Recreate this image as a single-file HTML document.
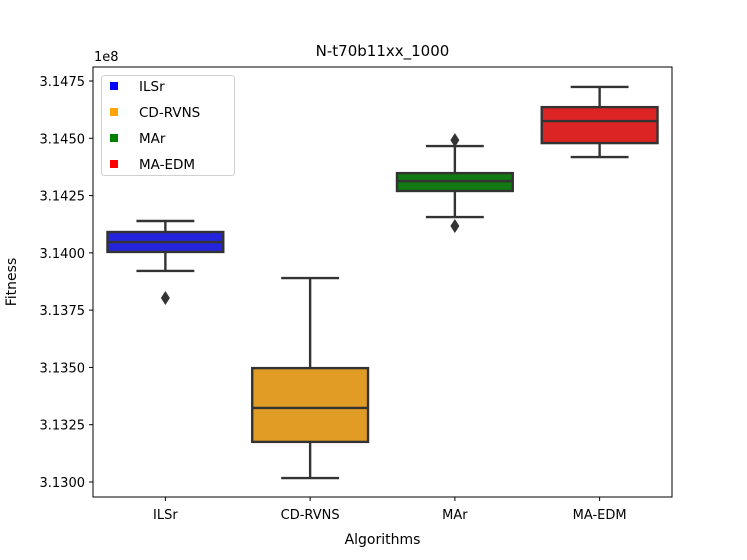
<!DOCTYPE html>
<html><head><meta charset="utf-8"><style>
body{margin:0;background:#fff;}
svg{display:block;font-family:"DejaVu Sans","Liberation Sans",sans-serif;}
</style></head><body>
<svg id="c" width="747" height="560"></svg>
<script>
const categories=["ILSr","CD-RVNS","MAr","MA-EDM"];
const whiskerLow=[3.13921,3.13017,3.14156,3.14418];
const q1=[3.14004,3.13175,3.14270,3.14479];
const median=[3.14047,3.13323,3.14313,3.14575];
const q3=[3.14091,3.13497,3.14348,3.14636];
const whiskerHigh=[3.14139,3.13890,3.14466,3.14724];
const outliers=[[3.13803],[],[3.14492,3.14117],[]];
const boxColors=["#2424dc","#e09c24","#127a12","#dc2424"];
const legendColors=["#0000ff","#ffa500","#008000","#ff0000"];
const yTicks=[3.1300,3.1325,3.1350,3.1375,3.1400,3.1425,3.1450,3.1475];
const yTickLabels=["3.1300","3.1325","3.1350","3.1375","3.1400","3.1425","3.1450","3.1475"];

const L=93,R=672,T=67,B=497;
const yMin=3.129345,yMax=3.148111;
const y=v=>B-(v-yMin)/(yMax-yMin)*(B-T);
const band=(R-L)/categories.length;
const x=i=>L+band*(i+0.5);
const svg=document.getElementById('c');
const NS="http://www.w3.org/2000/svg";
function mk(t,a,txt){const e=document.createElementNS(NS,t);for(const k in a)e.setAttribute(k,a[k]);if(txt!==undefined)e.textContent=txt;svg.appendChild(e);return e;}
const ec="#333333";
const sw=2.4;
categories.forEach((c,i)=>{
  const cx=x(i),bw=band*0.8,cw=bw/2;
  let e=mk('line',{x1:cx,x2:cx,y1:y(whiskerHigh[i]),y2:y(q3[i]),stroke:ec,'stroke-width':sw});
  
  e=mk('line',{x1:cx,x2:cx,y1:y(q1[i]),y2:y(whiskerLow[i]),stroke:ec,'stroke-width':sw});
  
  e=mk('line',{x1:cx-cw/2,x2:cx+cw/2,y1:y(whiskerHigh[i]),y2:y(whiskerHigh[i]),stroke:ec,'stroke-width':sw});
  
  e=mk('line',{x1:cx-cw/2,x2:cx+cw/2,y1:y(whiskerLow[i]),y2:y(whiskerLow[i]),stroke:ec,'stroke-width':sw});
  
  e=mk('rect',{x:cx-bw/2,y:y(q3[i]),width:bw,height:y(q1[i])-y(q3[i]),fill:boxColors[i],stroke:ec,'stroke-width':sw});
  
  e=mk('line',{x1:cx-bw/2,x2:cx+bw/2,y1:y(median[i]),y2:y(median[i]),stroke:ec,'stroke-width':sw});
  
  outliers[i].forEach(o=>{const yy=y(o);
    const p=mk('path',{d:`M${cx} ${yy-7}L${cx+4.5} ${yy}L${cx} ${yy+7}L${cx-4.5} ${yy}Z`,fill:ec});
    });
  e=mk('line',{x1:cx,x2:cx,y1:B,y2:B+4,stroke:'#000','stroke-width':1});
  
  e=mk('text',{x:cx,y:B+22,'text-anchor':'middle','font-size':13},c);
  
});
yTicks.forEach((v,i)=>{
  let e=mk('line',{x1:L-4,x2:L,y1:y(v),y2:y(v),stroke:'#000','stroke-width':1});
  
  e=mk('text',{x:L-8,y:y(v)+5,'text-anchor':'end','font-size':13},yTickLabels[i]);
  
});
let f=mk('rect',{x:L,y:T,width:R-L,height:B-T,fill:'none',stroke:'#000','stroke-width':1});

f=mk('text',{x:94,y:61,'font-size':13},'1e8');

f=mk('text',{x:(L+R)/2,y:56,'text-anchor':'middle','font-size':15},'N-t70b11xx_1000');

f=mk('text',{x:(L+R)/2,y:544,'text-anchor':'middle','font-size':14},'Algorithms');

f=mk('text',{x:16,y:282,'text-anchor':'middle','font-size':14,transform:'rotate(-90 16 282)'},'Fitness');

f=mk('rect',{x:101.5,y:75.5,width:133,height:100,rx:3,fill:'#fff','fill-opacity':0.8,stroke:'#d0d0d0','stroke-width':1});

categories.forEach((c,i)=>{const ly=86+i*26;
  let e=mk('rect',{x:110,y:ly-4,width:8,height:8,fill:legendColors[i]});
  
  e=mk('text',{x:139,y:ly+5,'font-size':13.5},c);
  
});
</script>
</body></html>
